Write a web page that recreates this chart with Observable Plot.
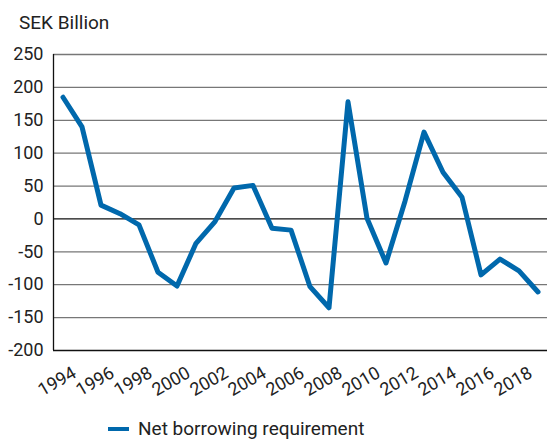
<!DOCTYPE html>
<html>
<head>
<meta charset="utf-8">
<script src="https://cdn.jsdelivr.net/npm/d3@7"></script>
<script src="https://cdn.jsdelivr.net/npm/@observablehq/plot@0.6"></script>
<style>
  html, body { margin: 0; padding: 0; background: #fff; }
  body { width: 547px; height: 439px; position: relative; overflow: hidden; font-family: Roboto, sans-serif; color: #222; }
  #title { position: absolute; left: 19px; top: 12px; font-size: 19px; line-height: 22px; }
  #chart { position: absolute; left: 0; top: 40px; }
  #legend { position: absolute; left: 108px; top: 419px; font-size: 19px; line-height: 20px; display: flex; align-items: center; white-space: nowrap; }
  #legend .sw { width: 21px; height: 4px; background: #0068ac; margin-right: 9px; }
</style>
</head>
<body>
<div id="title">SEK Billion</div>
<div id="chart"></div>
<div id="legend"><span class="sw"></span><span>Net borrowing requirement</span></div>
<script>
const years = [1994,1995,1996,1997,1998,1999,2000,2001,2002,2003,2004,2005,2006,2007,2008,2009,2010,2011,2012,2013,2014,2015,2016,2017,2018,2019];
const netBorrowing = [185,140,21,8,-9,-81,-102,-37,-4,47,51,-14,-17,-103,-135,178,1,-67,27,132,71,33,-85,-61,-79,-111];
const yTicks = [250,200,150,100,50,0,-50,-100,-150,-200];
const xTickLabels = [1994,1996,1998,2000,2002,2004,2006,2008,2010,2012,2014,2016,2018];

const data = years.map((y, i) => ({year: y, value: netBorrowing[i]}));
const xDomain = [years[0] - 0.5, years[years.length - 1] + 0.5];

const chart = Plot.plot({
  width: 547,
  height: 360,
  marginLeft: 53,
  marginRight: 0,
  marginTop: 14,
  marginBottom: 50,
  style: {fontFamily: "Roboto, sans-serif", fontSize: "18px", color: "#222", background: "transparent"},
  x: {domain: xDomain, axis: null},
  y: {domain: [-200, 250], ticks: yTicks, label: null},
  marks: [
    Plot.ruleY(yTicks.filter(t => t !== 0 && t !== -200), {stroke: "#777", strokeWidth: 1.3, strokeOpacity: 1}),
    Plot.ruleY([0, -200], {stroke: "#111", strokeWidth: 1.3}),
    Plot.ruleX([xDomain[0]], {stroke: "#111", strokeWidth: 1.3}),
    Plot.axisY({ticks: yTicks, tickSize: 0, tickPadding: 10, label: null, fontSize: 18, fill: "#222", tickFormat: d => String(d)}),
    Plot.text(xTickLabels, {x: d => d, frameAnchor: "bottom", text: d => String(d), rotate: -30, textAnchor: "middle", dx: -3, dy: 36, fontSize: 18, fill: "#222"}),
    Plot.line(data, {x: "year", y: "value", stroke: "#0068ac", strokeWidth: 5, strokeLinejoin: "round", strokeLinecap: "round"})
  ]
});
document.getElementById("chart").appendChild(chart);
</script>
</body>
</html>
